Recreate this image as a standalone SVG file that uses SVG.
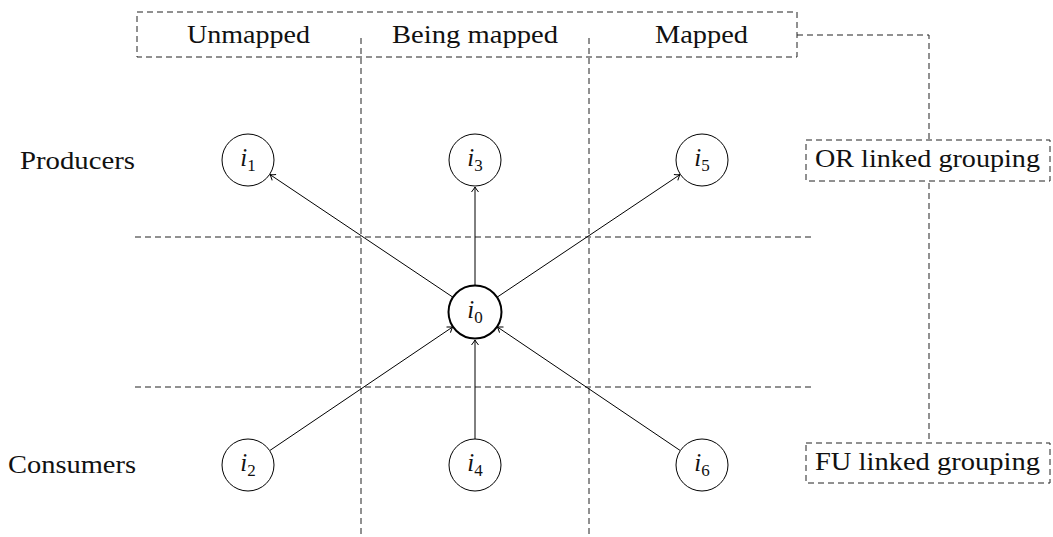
<svg xmlns="http://www.w3.org/2000/svg" width="1053" height="537" viewBox="0 0 1053 537">
<style>
.dash{fill:none;stroke:#222;stroke-width:1;stroke-dasharray:6,4}
.box{fill:#fff;stroke:#222;stroke-width:1;stroke-dasharray:6,4}
.node{fill:#fff;stroke:#000;stroke-width:1}
.node0{fill:#fff;stroke:#000;stroke-width:2}
.lbl{font-family:"Liberation Serif","DejaVu Serif",serif;font-size:25px;fill:#111}
.m{font-family:"Liberation Serif","DejaVu Serif",serif;font-size:25px;fill:#111}
.sub{font-size:17px}
.edge{stroke:#000;stroke-width:1;fill:none;marker-end:url(#to)}
</style>
<defs>
<marker id="to" markerUnits="userSpaceOnUse" markerWidth="12" markerHeight="12" viewBox="-6 -6 12 12" refX="0" refY="0" orient="auto">
<path d="M-5,-3.5 Q-1.5,-0.8 0,0 Q-1.5,0.8 -5,3.5" fill="none" stroke="#000" stroke-width="1"/>
</marker>
</defs>
<rect width="1053" height="537" fill="#fff"/>
<g id="grid">
<rect class="dash" x="137" y="12" width="660" height="45"/>
<path class="dash" d="M797,35 H929 V442"/>
<line class="dash" x1="361" y1="38" x2="361" y2="537"/>
<line class="dash" x1="589" y1="38" x2="589" y2="537"/>
<line class="dash" x1="135" y1="237" x2="812" y2="237"/>
<line class="dash" x1="135" y1="387" x2="812" y2="387"/>
</g>
<g id="headers">
<text class="lbl" x="187" y="43" textLength="123" lengthAdjust="spacingAndGlyphs">Unmapped</text>
<text class="lbl" x="392" y="43" textLength="166" lengthAdjust="spacingAndGlyphs">Being mapped</text>
<text class="lbl" x="655" y="43" textLength="93" lengthAdjust="spacingAndGlyphs">Mapped</text>
</g>
<g id="rowlabels">
<text class="lbl" x="20" y="169" textLength="115" lengthAdjust="spacingAndGlyphs">Producers</text>
<text class="lbl" x="8" y="473" textLength="128" lengthAdjust="spacingAndGlyphs">Consumers</text>
</g>
<g id="or-group">
<rect class="box" x="806" y="140" width="244" height="41"/>
<text class="lbl" x="815" y="167" textLength="225" lengthAdjust="spacingAndGlyphs">OR linked grouping</text>
</g>
<g id="fu-group">
<rect class="box" x="806" y="443" width="244" height="40"/>
<text class="lbl" x="815" y="470" textLength="225" lengthAdjust="spacingAndGlyphs">FU linked grouping</text>
</g>
<g id="connectors">
<line class="edge" x1="452.6" y1="297" x2="270" y2="174.6"/>
<line class="edge" x1="475" y1="285" x2="475" y2="187"/>
<line class="edge" x1="497.4" y1="297" x2="680" y2="174.6"/>
<line class="edge" x1="270" y1="450.4" x2="452.6" y2="327"/>
<line class="edge" x1="475" y1="439" x2="475" y2="340"/>
<line class="edge" x1="680" y1="450.4" x2="497.4" y2="327"/>
</g>
<g id="i0"><circle class="node0" cx="475" cy="312" r="26.5"/><text class="m" x="475" y="318" text-anchor="middle"><tspan font-style="italic">i</tspan><tspan class="sub" dy="5">0</tspan></text></g>
<g id="i1"><circle class="node" cx="248" cy="160" r="26"/><text class="m" x="248" y="166" text-anchor="middle"><tspan font-style="italic">i</tspan><tspan class="sub" dy="5">1</tspan></text></g>
<g id="i3"><circle class="node" cx="475" cy="160" r="26"/><text class="m" x="475" y="166" text-anchor="middle"><tspan font-style="italic">i</tspan><tspan class="sub" dy="5">3</tspan></text></g>
<g id="i5"><circle class="node" cx="702" cy="160" r="26"/><text class="m" x="702" y="166" text-anchor="middle"><tspan font-style="italic">i</tspan><tspan class="sub" dy="5">5</tspan></text></g>
<g id="i2"><circle class="node" cx="248" cy="465" r="26"/><text class="m" x="248" y="471" text-anchor="middle"><tspan font-style="italic">i</tspan><tspan class="sub" dy="5">2</tspan></text></g>
<g id="i4"><circle class="node" cx="475" cy="465" r="26"/><text class="m" x="475" y="471" text-anchor="middle"><tspan font-style="italic">i</tspan><tspan class="sub" dy="5">4</tspan></text></g>
<g id="i6"><circle class="node" cx="702" cy="465" r="26"/><text class="m" x="702" y="471" text-anchor="middle"><tspan font-style="italic">i</tspan><tspan class="sub" dy="5">6</tspan></text></g>
</svg>
